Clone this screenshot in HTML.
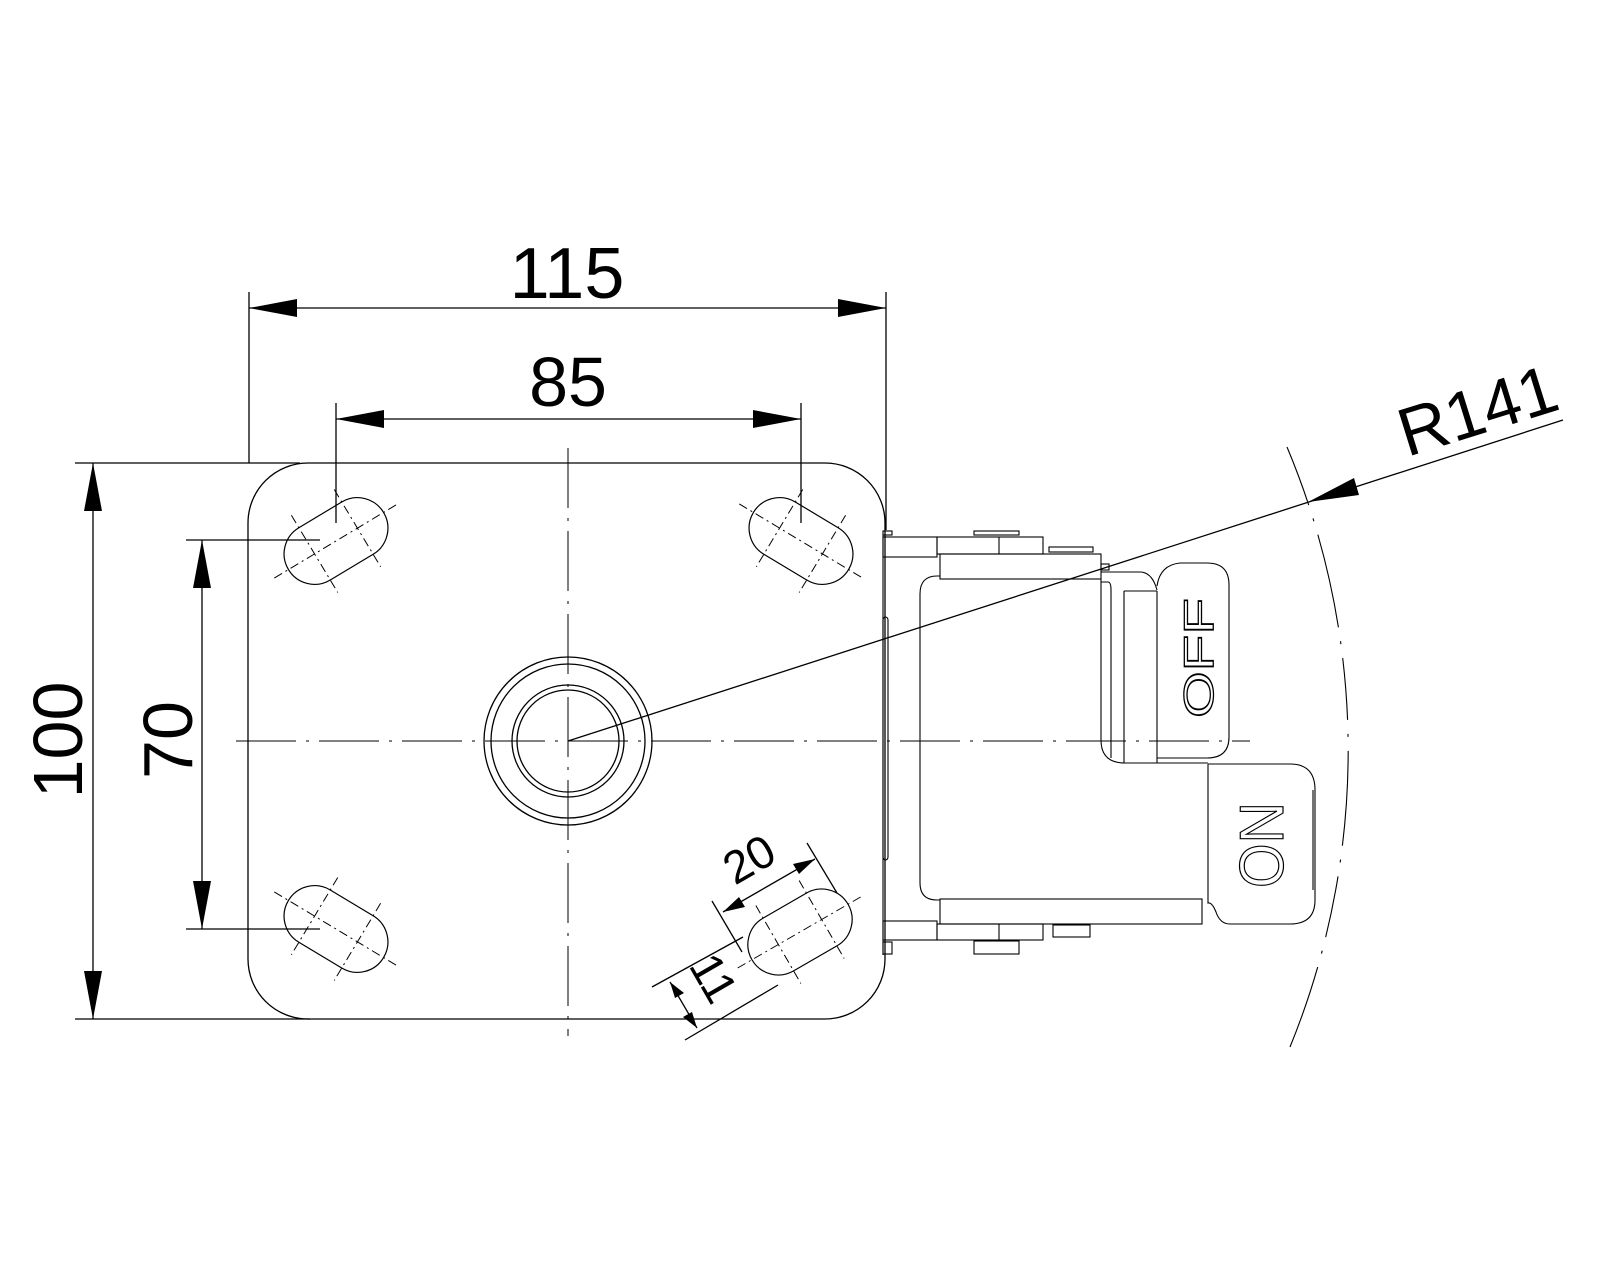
<!DOCTYPE html>
<html><head><meta charset="utf-8"><style>
html,body{margin:0;padding:0;background:#fff}
svg{display:block}
text{font-family:"Liberation Sans",sans-serif;fill:#000}
</style></head><body>
<svg width="1600" height="1280" viewBox="0 0 1600 1280" xmlns="http://www.w3.org/2000/svg">
<defs>
<path id="slot" d="M -25,-30.5 L 25,-30.5 A 30.5 30.5 0 0 1 25,30.5 L -25,30.5 A 30.5 30.5 0 0 1 -25,-30.5 Z" fill="none" stroke="#000" stroke-width="1.2"/>
<g id="slotg">
<use href="#slot"/>
<g stroke="#000" stroke-width="1" stroke-dasharray="9 4 2 4" fill="none">
<line x1="-72" y1="0" x2="72" y2="0"/>
<line x1="-25" y1="-45" x2="-25" y2="45"/>
<line x1="25" y1="-45" x2="25" y2="45"/>
</g>
</g>
</defs>

<g fill="none" stroke="#000" stroke-width="1.3">
<rect x="248" y="463" width="637" height="556" rx="60" ry="60"/>
<circle cx="568" cy="741" r="84"/>
<circle cx="568" cy="741" r="77"/>
<circle cx="568" cy="741" r="56"/>
<circle cx="568" cy="741" r="51"/>
</g>

<g stroke="#000" stroke-width="1" stroke-dasharray="60 10 3 10" fill="none">
<line x1="236" y1="741" x2="1250" y2="741"/>
<line x1="568" y1="448" x2="568" y2="1036"/>
</g>

<use href="#slotg" transform="translate(336,541) rotate(-31)"/>
<use href="#slotg" transform="translate(801,541) rotate(31)"/>
<use href="#slotg" transform="translate(336,929) rotate(31)"/>
<use href="#slotg" transform="translate(800,932) rotate(-30)"/>

<g stroke="#000" stroke-width="1.3" fill="none">
<line x1="249" y1="292" x2="249" y2="463"/>
<line x1="886" y1="292" x2="886" y2="530"/>
<line x1="249" y1="308" x2="886" y2="308"/>
<line x1="336" y1="403" x2="336" y2="523"/>
<line x1="801" y1="403" x2="801" y2="523"/>
<line x1="336" y1="419" x2="801" y2="419"/>
<line x1="75" y1="463" x2="300" y2="463"/>
<line x1="75" y1="1019" x2="310" y2="1019"/>
<line x1="93" y1="463" x2="93" y2="1019"/>
<line x1="186" y1="540" x2="320" y2="540"/>
<line x1="186" y1="929" x2="320" y2="929"/>
<line x1="202" y1="540" x2="202" y2="929"/>
<line x1="712" y1="901" x2="742" y2="952"/>
<line x1="807" y1="843" x2="837" y2="893"/>
<line x1="723" y1="912" x2="815" y2="859"/>
<line x1="652" y1="987" x2="743" y2="937"/>
<line x1="685" y1="1040" x2="778" y2="985"/>
<line x1="670" y1="982" x2="697" y2="1028"/>
<line x1="568" y1="741" x2="1563" y2="420"/>
</g>

<g fill="#000">
<polygon points="249,308 297,299 297,317"/>
<polygon points="886,308 838,299 838,317"/>
<polygon points="336,419 384,410 384,428"/>
<polygon points="801,419 753,410 753,428"/>
<polygon points="93,463 84,511 102,511"/>
<polygon points="93,1019 84,971 102,971"/>
<polygon points="202,540 193,588 211,588"/>
<polygon points="202,929 193,881 211,881"/>
<polygon points="723,912 739,897 745,907"/>
<polygon points="815,859 799,874 793,864"/>
<polygon points="670,982 684,993 675,998"/>
<polygon points="697,1028 683,1017 692,1012"/>
<polygon points="1308,502 1354,478 1359,495"/>
</g>

<path d="M 1287,447 A 784 784 0 0 1 1290,1047" fill="none" stroke="#000" stroke-width="1.1" stroke-dasharray="62 14 3 14 95 14 3 14"/>

<g fill="none" stroke="#000" stroke-width="1.1">
<rect x="883" y="531" width="9" height="4"/>
<rect x="883" y="537" width="54" height="20"/>
<rect x="937" y="537" width="106" height="17"/>
<line x1="999" y1="537" x2="999" y2="554"/>
<rect x="974" y="531" width="45" height="4"/>
<rect x="1049" y="547" width="44" height="5"/>
<rect x="940" y="554" width="161" height="25"/>
<rect x="1101" y="564" width="8" height="6"/>
<path d="M 940,576 L 937,576 Q 920,576 920,594 L 920,883 Q 920,900 937,900 L 940,900"/>
<path d="M 1101,579 L 1101,740 Q 1101,763 1125,763 L 1208,763"/>
<path d="M 1101,582 L 1108,582 Q 1111,582 1111,590 L 1111,758"/>
<path d="M 1101,572 L 1140,572 Q 1152,572 1157,590"/>
<line x1="1124" y1="591" x2="1124" y2="763"/>
<line x1="1124" y1="591" x2="1157" y2="591"/>
<line x1="1157" y1="591" x2="1157" y2="763"/>
<path d="M 1157,586 Q 1160,565 1180,563 L 1207,563 Q 1229,563 1229,585 L 1229,737 Q 1229,758 1207,758 L 1157,758"/>
<path d="M 1208,764 L 1290,764 Q 1315,764 1315,790 L 1315,900 Q 1315,924 1290,924 L 1230,924 Q 1220,924 1216,912 Q 1212,902 1208,903 L 1208,764"/>
<line x1="1313" y1="790" x2="1313" y2="890"/>
<rect x="940" y="899" width="262" height="25"/>
<rect x="883" y="921" width="54" height="19"/>
<rect x="937" y="924" width="106" height="16"/>
<line x1="999" y1="924" x2="999" y2="940"/>
<rect x="974" y="941" width="45" height="13"/>
<rect x="1053" y="925" width="37" height="12"/>
<rect x="883" y="942" width="9" height="12"/>
<rect x="883" y="617" width="5" height="243" rx="3"/>
<line x1="883" y1="535" x2="883" y2="955"/>
</g>

<text x="567" y="298" font-size="72" text-anchor="middle">115</text>
<text x="568" y="406" font-size="70" text-anchor="middle">85</text>
<text transform="translate(82,740) rotate(-90)" font-size="70" text-anchor="middle">100</text>
<text transform="translate(192,740) rotate(-90)" font-size="70" text-anchor="middle">70</text>
<text transform="translate(757,873) rotate(-30)" font-size="46" text-anchor="middle">20</text>
<text transform="translate(700,986) rotate(60)" font-size="46" text-anchor="middle">11</text>
<text transform="translate(1407,457) rotate(-17.3)" font-size="68">R141</text>
<text transform="translate(1213,658) rotate(-90)" font-size="42" text-anchor="middle" textLength="120" lengthAdjust="spacingAndGlyphs" style="fill:#fff;stroke:#000;stroke-width:1.3">OFF</text>
<text transform="translate(1283,845) rotate(-90)" font-size="62" text-anchor="middle" textLength="86" lengthAdjust="spacingAndGlyphs" style="fill:#fff;stroke:#000;stroke-width:1.2">ON</text>
</svg>
</body></html>
